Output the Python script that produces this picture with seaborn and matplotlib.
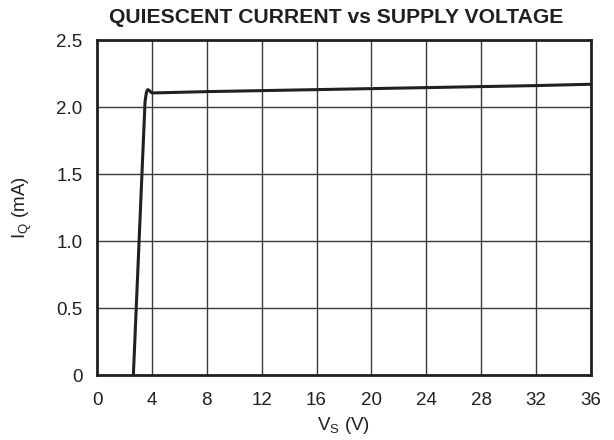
import numpy as np
import pandas as pd
import matplotlib
matplotlib.use('Agg')
import matplotlib.pyplot as plt
import seaborn as sns

# values
vs_volts = [2.65, 3.0, 3.3, 3.5, 3.6, 3.7, 3.85, 4.0, 8.0, 16.0, 24.0, 32.0, 36.0]
iq_ma = [0.0, 0.84, 1.56, 2.04, 2.11, 2.13, 2.12, 2.105, 2.115, 2.13, 2.145, 2.16, 2.17]

x_ticks = [0, 4, 8, 12, 16, 20, 24, 28, 32, 36]
y_ticks = [0, 0.5, 1.0, 1.5, 2.0, 2.5]
y_tick_labels = ['0', '0.5', '1.0', '1.5', '2.0', '2.5']

df = pd.DataFrame({'vs': vs_volts, 'iq': iq_ma})

sns.set_style('white')
plt.rcParams['font.family'] = ['Liberation Sans', 'DejaVu Sans']
plt.rcParams['mathtext.fontset'] = 'custom'
plt.rcParams['mathtext.rm'] = 'Liberation Sans'

fig = plt.figure(figsize=(6.14, 4.4), dpi=100)
ax = fig.add_axes([0.158, 0.1477, 0.8045, 0.7613])

sns.lineplot(data=df, x='vs', y='iq', ax=ax, color='#231f20', linewidth=2.2,
             estimator=None, sort=False)

ax.set_xlim(0, 36)
ax.set_ylim(0, 2.5)
ax.set_xticks(x_ticks)
ax.set_yticks(y_ticks)
ax.set_yticklabels(y_tick_labels)
ax.grid(True, color='#3a3a3a', linewidth=1.0)
ax.set_axisbelow(True)
ax.tick_params(axis='both', length=0, labelsize=13.5, colors='#231f20')
ax.tick_params(axis='y', pad=10.5)
ax.tick_params(axis='x', pad=12)
for s in ax.spines.values():
    s.set_visible(True)
    s.set_linewidth(2.0)
    s.set_color('#231f20')

ax.set_xlabel(r'V$_\mathregular{S}$ (V)', fontsize=13.5, color='#231f20')
ax.set_ylabel(r'I$_\mathregular{Q}$ (mA)', fontsize=13.5, color='#231f20')
ax.xaxis.set_label_coords(0.5, -0.12)
ax.yaxis.set_label_coords(-0.128, 0.5)

fig.text(0.548, 0.961, 'QUIESCENT CURRENT vs SUPPLY VOLTAGE', ha='center', va='center',
         fontsize=15.2, fontweight='bold', color='#231f20')

fig.savefig('out.png', dpi=100)
